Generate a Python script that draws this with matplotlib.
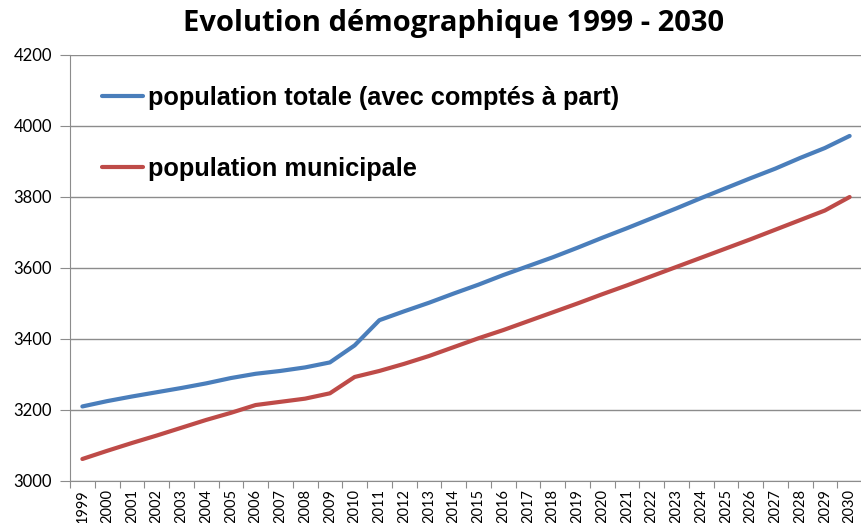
import numpy as np
import matplotlib.pyplot as plt
from matplotlib.ticker import FixedLocator

# années et séries de population
annees = list(range(1999, 2031))
pop_totale = [3210, 3225, 3238, 3250, 3262, 3275, 3290, 3302, 3310, 3320,
              3334, 3382, 3453, 3478, 3502, 3528, 3553, 3580, 3605, 3630,
              3657, 3685, 3712, 3740, 3768, 3797, 3825, 3853, 3880, 3910,
              3938, 3972]
pop_municipale = [3062, 3085, 3107, 3128, 3150, 3172, 3192, 3214, 3223, 3232,
                  3247, 3293, 3310, 3330, 3352, 3377, 3402, 3425, 3450, 3475,
                  3500, 3526, 3551, 3577, 3603, 3629, 3655, 3681, 3708, 3735,
                  3762, 3800]

fig = plt.figure(figsize=(8.61, 5.23), dpi=100)
ax = fig.add_axes([70 / 861, 1 - 481 / 523, 792 / 861, 426 / 523])

x = np.arange(len(annees))
ax.plot(x, pop_totale, color='#4a7ebb', lw=3, solid_capstyle='round',
        label='population totale (avec comptés à part)')
ax.plot(x, pop_municipale, color='#be4b48', lw=3, solid_capstyle='round',
        label='population municipale')

ax.set_xlim(-0.5, len(annees) - 0.5)
ax.set_ylim(3000, 4200)
ax.set_yticks(range(3000, 4201, 200))
ax.grid(axis='y', color='#8c8c8c', lw=1)
ax.set_axisbelow(True)

# graduations entre les catégories, étiquettes au centre
ax.xaxis.set_major_locator(FixedLocator(np.arange(-0.5, len(annees), 1)))
ax.set_xticklabels([])
ax.set_xticks(x, minor=True)
ax.set_xticklabels([str(a) for a in annees], minor=True, rotation=90,
                   fontsize=10.5, family='Lato')
ax.tick_params(axis='x', which='major', length=5, color='#8c8c8c')
ax.tick_params(axis='x', which='minor', length=0, pad=6)
ax.tick_params(axis='y', length=7, color='#8c8c8c', pad=6)
for lab in ax.get_yticklabels():
    lab.set_family('Lato')
    lab.set_fontsize(12)

for s in ['top', 'right']:
    ax.spines[s].set_visible(False)
for s in ['left', 'bottom']:
    ax.spines[s].set_color('#8c8c8c')

ax.legend(loc='upper left', bbox_to_anchor=(0.0404, 0.927), frameon=False,
          borderaxespad=0, borderpad=0,
          handlelength=1.6, handletextpad=0.2, labelspacing=1.85,
          prop={'family': 'Liberation Sans', 'weight': 'bold', 'size': 18.3})

fig.text(0.527, 0.955, 'Evolution démographique 1999 - 2030', ha='center',
         va='center', fontsize=21, fontweight='bold', family='Open Sans')

fig.savefig('out.png', dpi=100)
